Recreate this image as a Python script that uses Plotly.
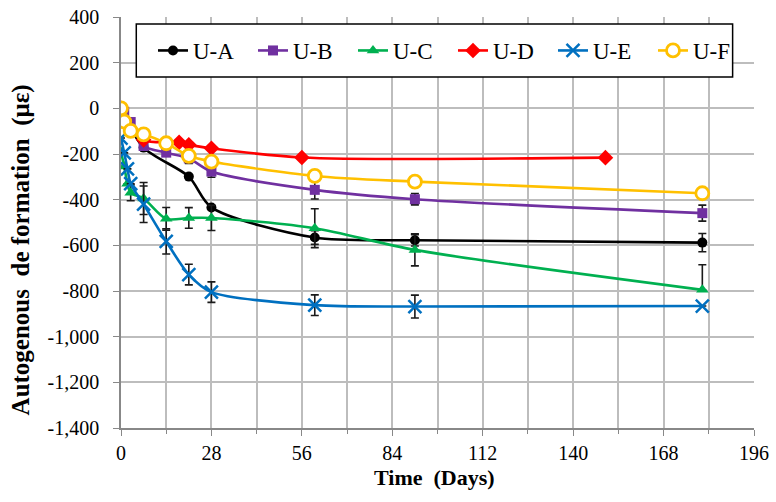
import plotly.graph_objects as go

# Autogenous deformation (microstrain) of six mixes versus age in days
days_a = [0, 7, 21, 28, 60, 91, 180]
u_a = [0, -172, -299, -434, -566, -578, -588]
err_a = [0, 0, 0, 0, 30, 25, 40]

days_b = [0, 1, 3, 7, 14, 21, 28, 60, 91, 180]
u_b = [0, -15, -60, -165, -194, -219, -277, -357, -398, -459]
err_b = [0, 0, 0, 0, 15, 22, 25, 40, 25, 35]

days_c = [0, 1, 2, 3, 7, 14, 21, 28, 60, 91, 180]
u_c = [-190, -255, -330, -370, -395, -484, -480, -480, -525, -620, -795]
err_c_plus = [0, 0, 0, 35, 70, 50, 45, 55, 85, 70, 110]
err_c_minus = [0, 0, 0, 35, 70, 50, 45, 55, 85, 70, 0]

days_d = [0, 7, 18, 21, 28, 56, 150]
u_d = [0, -138, -149, -160, -175, -215, -216]

days_e = [0, 1, 2, 3, 7, 14, 21, 28, 60, 91, 180]
u_e = [-130, -195, -265, -330, -420, -583, -728, -805, -862, -868, -866]
err_e = [0, 0, 0, 0, 80, 55, 45, 45, 45, 50, 0]

days_f = [0, 1, 3, 7, 14, 21, 28, 60, 91, 180]
u_f = [0, -58, -99, -114, -153, -208, -233, -296, -321, -372]

x_ticks = [0, 28, 56, 84, 112, 140, 168, 196]
y_ticks = [400, 200, 0, -200, -400, -600, -800, -1000, -1200, -1400]
y_tick_text = ["400", "200", "0", "-200", "-400", "-600", "-800", "-1,000", "-1,200", "-1,400"]

FONT = "Liberation Serif, Times New Roman, serif"
GRID = "#BDBDBD"
AXIS = "#888888"


def err(plus, minus=None):
    d = dict(type="data", array=plus, color="#1a1a1a", thickness=1.6, width=4, visible=True)
    if minus is not None:
        d["symmetric"] = False
        d["arrayminus"] = minus
    return d


fig = go.Figure()

fig.add_trace(go.Scatter(
    x=days_a, y=u_a, name="U-A", mode="lines+markers",
    line=dict(color="#000000", width=2.6, shape="spline", smoothing=0.8),
    marker=dict(symbol="circle", size=10, color="#000000"),
    error_y=err(err_a)))

fig.add_trace(go.Scatter(
    x=days_b, y=u_b, name="U-B", mode="lines+markers",
    line=dict(color="#7030A0", width=2.6, shape="spline", smoothing=0.8),
    marker=dict(symbol="square", size=10, color="#7030A0"),
    error_y=err(err_b)))

fig.add_trace(go.Scatter(
    x=days_c, y=u_c, name="U-C", mode="lines+markers",
    line=dict(color="#00B050", width=2.6, shape="spline", smoothing=0.8),
    marker=dict(symbol="triangle-up", size=11, color="#00B050"),
    error_y=err(err_c_plus, err_c_minus)))

fig.add_trace(go.Scatter(
    x=days_d, y=u_d, name="U-D", mode="lines+markers",
    line=dict(color="#FF0000", width=2.6, shape="spline", smoothing=0.8),
    marker=dict(symbol="diamond", size=12, color="#FF0000")))

fig.add_trace(go.Scatter(
    x=days_e, y=u_e, name="U-E", mode="lines+markers",
    line=dict(color="#0070C0", width=2.6, shape="spline", smoothing=0.8),
    marker=dict(symbol="x-thin", size=13, color="#0070C0",
                line=dict(color="#0070C0", width=2.5)),
    error_y=err(err_e)))

fig.add_trace(go.Scatter(
    x=days_f, y=u_f, name="U-F", mode="lines+markers",
    line=dict(color="#FFC000", width=2.6, shape="spline", smoothing=0.8),
    marker=dict(symbol="circle", size=13, color="#FFFFFF",
                line=dict(color="#FFC000", width=2.8))))

L, R, T, B = 120.7, 21.6, 17, 74
W, H = 776, 502
pw, ph = W - L - R, H - T - B


def px_x(p):
    return (p - L) / pw


def px_y(p):
    return (H - B - p) / ph


fig.update_layout(
    width=W, height=H,
    margin=dict(l=L, r=R, t=T, b=B, autoexpand=False),
    paper_bgcolor="white", plot_bgcolor="white",
    font=dict(family=FONT, color="#000000", size=18),
    showlegend=True,
    legend=dict(
        orientation="h", xref="container", yref="container",
        x=153 / W, y=1 - 29 / H, xanchor="left", yanchor="top",
        bgcolor="rgba(0,0,0,0)", borderwidth=0,
        font=dict(family=FONT, size=23, color="#000000"),
        entrywidth=55, entrywidthmode="pixels", itemwidth=30,
    ),
    xaxis=dict(
        range=[0, 196], tickvals=x_ticks, ticks="outside", ticklen=6,
        tickcolor=AXIS, showgrid=True, gridcolor=GRID, gridwidth=1.5,
        showline=True, linecolor=AXIS, linewidth=1.5, automargin=False,
        zeroline=False, tickfont=dict(family=FONT, size=20, color="#000000"),
        minor=dict(dtick=14, tick0=0, showgrid=True, gridcolor=GRID, gridwidth=1.5,
                   ticks="outside", ticklen=4, tickcolor=AXIS),
    ),
    yaxis=dict(
        range=[-1400, 400], tickvals=y_ticks, ticktext=y_tick_text,
        ticks="outside", ticklen=6, tickcolor=AXIS, ticklabelstandoff=10,
        showgrid=True, gridcolor=GRID, gridwidth=1.5,
        showline=True, linecolor=AXIS, linewidth=1.5, automargin=False,
        zeroline=False, tickfont=dict(family=FONT, size=20, color="#000000"),
    ),
    shapes=[dict(
        type="rect", xref="paper", yref="paper",
        x0=px_x(136), x1=px_x(733), y0=px_y(77), y1=px_y(24),
        line=dict(color="#000000", width=1.5), fillcolor="white", layer="above",
    )],
    annotations=[
        dict(text="<b>Autogenous  de formation  (με)</b>", xref="paper", yref="paper",
             x=px_x(21), y=px_y(250), xanchor="center", yanchor="middle",
             textangle=-90, showarrow=False, font=dict(family=FONT, size=25)),
        dict(text="<b>Time  (Days)</b>", xref="paper", yref="paper",
             x=px_x(435), y=px_y(477), xanchor="center", yanchor="middle",
             showarrow=False, font=dict(family=FONT, size=22)),
    ],
)

fig.write_html("out.html")
